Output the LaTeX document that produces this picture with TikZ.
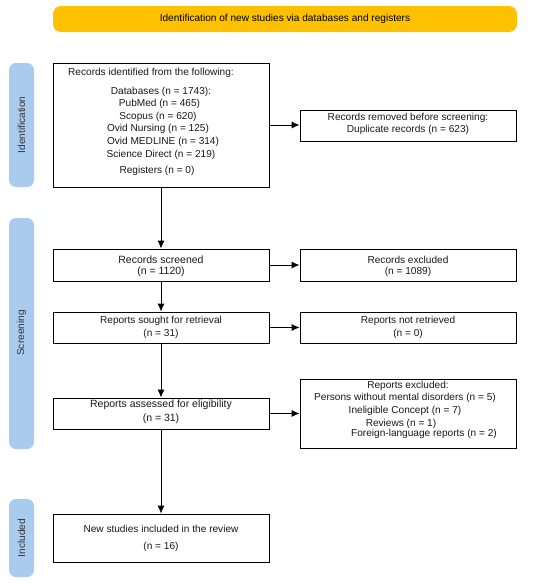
\documentclass[tikz,border=0pt]{standalone}
\usepackage{fontspec}
\setmainfont{Liberation Sans}
\usetikzlibrary{arrows.meta}
\definecolor{banner}{HTML}{FFC000}
\definecolor{side}{HTML}{A9CCEE}
\begin{document}
\begin{tikzpicture}[x=1pt,y=-1pt,
  box/.style={draw=black,line width=0.9pt,fill=white},
  txt/.style={inner sep=0pt,font=\fontsize{10.1}{12}\selectfont,text=black!90},
  big/.style={font=\fontsize{10.5}{12}\selectfont},
  sidebar/.style={fill=side,rounded corners=7pt},
  sidetxt/.style={rotate=90,inner sep=0pt,font=\fontsize{10.1}{12}\selectfont,text=black!80},
  arr/.style={line width=0.9pt,-{Latex[length=8pt,width=7pt]}},
  rbox/.style={box,minimum width=216pt,inner sep=0pt}]
\useasboundingbox (0,0) rectangle (550,584);
\fill[white] (0,0) rectangle (550,584);
% banner
\node[fill=banner,rounded corners=8pt,minimum width=464pt,minimum height=26pt,inner sep=0pt,font=\fontsize{10.1}{12}\selectfont] (ban) at (285,19) {Identification of new studies via databases and registers};
% side bars
\fill[sidebar] (9,63) rectangle (34,187);
\node[sidetxt] (sid) at (21.5,125) {Identification};
\fill[sidebar] (9,218) rectangle (34,449);
\node[sidetxt] (ssc) at (21.5,333) {Screening};
\fill[sidebar] (9,499) rectangle (34,577);
\node[sidetxt] (sin) at (21.5,538) {Included};
% box 1
\draw[box] (53,63) rectangle (269,187);
\coordinate (b1r) at (269,125);
\coordinate (b1b) at (161,187);
\node[txt] (t1a) at (151,73) {Records identified from the following:};
\node[txt] (t1b) at (161,92) {Databases (n = 1743):};
\node[txt] (t1c) at (159.5,104) {PubMed (n = 465)};
\node[txt] (t1d) at (158,117) {Scopus (n = 620)};
\node[txt] (t1e) at (158,129) {Ovid Nursing (n = 125)};
\node[txt] (t1f) at (163,142) {Ovid MEDLINE (n = 314)};
\node[txt] (t1g) at (161,155) {Science Direct (n = 219)};
\node[txt] (t1h) at (157,171) {Registers (n = 0)};
% removed
\node[rbox,minimum height=31pt] (rem) at (408,125.5) {};
\node[txt] (remt1) at (408,117.5) {Records removed before screening:};
\node[txt] (remt2) at (408,129.5) {Duplicate records (n = 623)};
% screened
\node[rbox,minimum height=32pt] (scr) at (161,265) {};
\node[txt,big] (scr1) at (161,260) {Records screened};
\node[txt,big] (scr2) at (161,271.5) {(n = 1120)};
\node[rbox,minimum height=32pt] (exc) at (408,265) {};
\node[txt] (exc1) at (408,260) {Records excluded};
\node[txt] (exc2) at (408,271.5) {(n = 1089)};
% sought
\node[rbox,minimum height=31pt] (sou) at (161,327.5) {};
\node[txt] (sou1) at (161,321) {Reports sought for retrieval};
\node[txt] (sou2) at (161,333.5) {(n = 31)};
\node[rbox,minimum height=31pt] (nre) at (408,327.5) {};
\node[txt] (nre1) at (408,321) {Reports not retrieved};
\node[txt] (nre2) at (408,333.5) {(n = 0)};
% assessed
\node[rbox,minimum height=31pt] (ass) at (161,413.5) {};
\node[txt,big] (ass1) at (161,405) {Reports assessed for eligibility};
\node[txt,big] (ass2) at (161,418.5) {(n = 31)};
\node[rbox,minimum height=69pt] (rex) at (408,413.5) {};
\node[txt] (rex1) at (408,385.5) {Reports excluded:};
\node[txt] (rex2) at (405,398) {Persons without mental disorders (n = 5)};
\node[txt] (rex3) at (405,411) {Ineligible Concept (n = 7)};
\node[txt] (rex4) at (401,424) {Reviews (n = 1)};
\node[txt] (rex5) at (424,434) {Foreign-language reports (n = 2)};
% included
\node[rbox,minimum height=48pt] (inc) at (161,538) {};
\node[txt] (inc1) at (161,529) {New studies included in the review};
\node[txt] (inc2) at (161,547) {(n = 16)};
% arrows
\draw[arr] (b1r) -- (b1r -| rem.west);
\draw[arr] (b1b) -- (scr.north);
\draw[arr] (scr) -- (exc);
\draw[arr] (scr) -- (sou);
\draw[arr] (sou) -- (nre);
\draw[arr] (sou) -- (ass);
\draw[arr] (ass) -- (ass -| rex.west);
\draw[arr] (ass) -- (inc);
\end{tikzpicture}
\end{document}
